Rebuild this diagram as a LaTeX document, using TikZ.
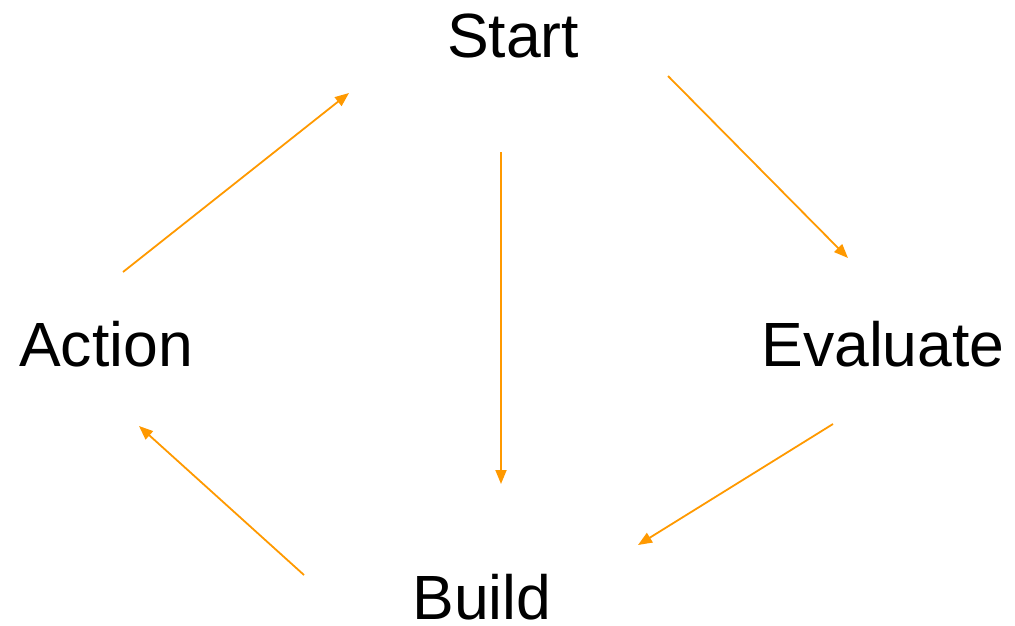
\documentclass[tikz,border=0pt]{standalone}
\usepackage{fontspec}
\setmainfont{Liberation Sans}
\usetikzlibrary{arrows.meta}
\definecolor{cycleorange}{HTML}{FF9900}

\begin{document}
\begin{tikzpicture}[x=1pt,y=1pt,
    stage/.style={anchor=base,inner sep=0pt,font=\fontsize{62.5}{70}\selectfont},
    flow/.style={draw=cycleorange,line width=1.8pt,-{Triangle[length=14pt,width=11pt]}}]
    \useasboundingbox (0,0) rectangle (1015,-626);
    % stages
    \node[stage] (start) at (513,-58) {Start};
    \node[stage] (action) at (106,-366) {Action};
    \node[stage] (evaluate) at (883,-366) {Evaluate};
    \node[stage] (build) at (482,-619) {Build};
    % arrow ends
    \coordinate (a1) at (123,-272);
    \coordinate (a2) at (349,-93);
    \coordinate (b1) at (668,-76);
    \coordinate (b2) at (848,-258);
    \coordinate (c1) at (501,-152);
    \coordinate (c2) at (501,-484);
    \coordinate (d1) at (833,-424);
    \coordinate (d2) at (638,-545);
    \coordinate (e1) at (304,-575);
    \coordinate (e2) at (139,-426);
    \draw[flow] (a1) -- (a2);
    \draw[flow] (b1) -- (b2);
    \draw[flow] (c1) -- (c2);
    \draw[flow] (d1) -- (d2);
    \draw[flow] (e1) -- (e2);
\end{tikzpicture}
\end{document}
